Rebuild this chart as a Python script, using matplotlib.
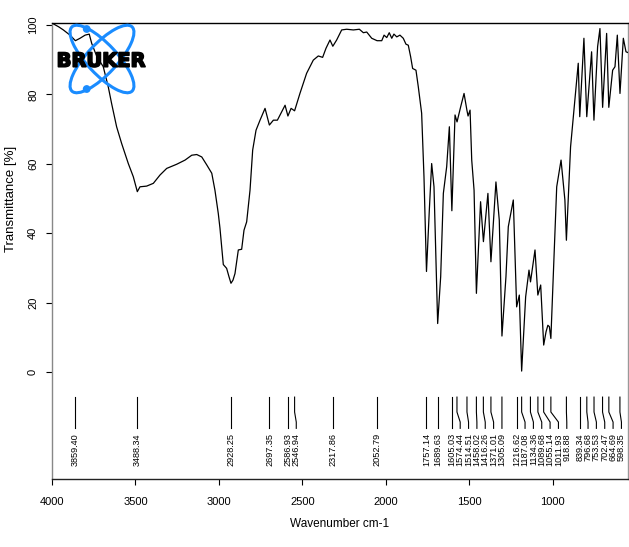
import matplotlib.pyplot as plt
import matplotlib.patheffects as pe
from matplotlib.patches import Ellipse, Circle

plt.rcParams['font.family'] = ['Liberation Sans', 'DejaVu Sans']

# IR spectrum, wavenumber (cm-1) vs transmittance (%)
wavenumber = [4000, 3990, 3960, 3932, 3892, 3860, 3832, 3802, 3777, 3762, 3732, 3693,
              3663, 3643, 3613, 3583, 3543, 3513, 3489, 3473, 3433, 3393, 3353, 3313,
              3253, 3203, 3163, 3133, 3103, 3073, 3043, 3024, 3004, 2994, 2984, 2974,
              2954, 2940, 2928, 2916, 2904, 2884, 2864, 2850, 2834, 2814, 2798, 2778,
              2754, 2724, 2698, 2674, 2650, 2604, 2587, 2568, 2547, 2515, 2475, 2435,
              2405, 2379, 2359, 2335, 2318, 2295, 2265, 2235, 2195, 2159, 2135, 2115,
              2085, 2053, 2025, 2011, 1995, 1980, 1965, 1952, 1935, 1916, 1896, 1880,
              1866, 1852, 1840, 1820, 1806, 1786, 1772, 1757, 1740, 1726, 1712, 1700,
              1690, 1672, 1656, 1636, 1620, 1605, 1586, 1574, 1552, 1532, 1515, 1508,
              1496, 1486, 1472, 1458, 1433, 1416, 1389, 1371, 1341, 1321, 1305, 1281,
              1267, 1237, 1217, 1201, 1187, 1163, 1143, 1134, 1107, 1090, 1073, 1055,
              1041, 1030, 1021, 1012, 977, 951, 928, 919, 894, 868, 848, 839,
              814, 797, 768, 754, 732, 718, 702, 678, 665, 642, 628, 614,
              598, 578, 562, 546]
transmittance = [100.8, 100.3, 99.5, 98.6, 97.1, 95.5, 96.2, 97.1, 97.4, 94.7, 91.0, 88.0,
                 82.2, 77.4, 70.7, 65.9, 60.1, 56.3, 52.0, 53.4, 53.6, 54.4, 56.8, 58.7,
                 59.9, 61.1, 62.5, 62.7, 62.0, 59.7, 57.3, 52.4, 45.7, 41.5, 36.1, 31.0,
                 29.9, 27.5, 25.6, 26.5, 28.4, 35.2, 35.4, 40.9, 43.3, 52.4, 64.0, 69.7,
                 72.6, 76.0, 71.2, 72.6, 72.6, 76.9, 73.8, 76.0, 75.3, 80.3, 86.1, 89.9,
                 91.1, 90.7, 93.3, 95.7, 93.9, 95.7, 98.6, 98.8, 98.6, 98.8, 97.8, 98.0,
                 96.2, 95.5, 95.5, 97.1, 96.4, 97.8, 96.2, 97.4, 96.6, 97.1, 96.2, 94.5,
                 94.2, 90.9, 87.5, 87.0, 82.2, 74.6, 56.3, 29.0, 46.7, 60.1, 53.4, 32.3,
                 14.0, 27.5, 51.5, 59.2, 70.7, 46.5, 74.1, 72.1, 76.5, 80.3, 75.5, 73.8,
                 75.5, 61.1, 52.4, 22.7, 49.1, 37.6, 51.5, 31.8, 54.8, 43.8, 10.4, 27.5,
                 41.9, 49.6, 18.8, 22.2, 0.3, 21.7, 29.4, 26.0, 35.2, 22.2, 25.1, 7.8,
                 11.6, 13.5, 13.1, 9.7, 53.4, 61.1, 49.6, 38.0, 64.9, 78.4, 89.0, 73.6,
                 96.2, 73.6, 92.3, 72.6, 93.8, 99.0, 76.3, 97.6, 76.3, 87.0, 88.0, 97.1,
                 80.3, 96.2, 92.3, 92.0]

# picked peaks
peaks = [3859.40, 3488.34, 2928.25, 2697.35, 2586.93, 2546.94, 2317.86, 2052.79,
         1757.14, 1689.63, 1605.03, 1574.44, 1514.51, 1458.02, 1416.26, 1371.01,
         1305.09, 1216.62, 1187.08, 1134.36, 1089.68, 1055.14, 1011.93, 918.88,
         839.34, 796.68, 753.53, 702.47, 664.69, 598.35]

x_ticks = [4000, 3500, 3000, 2500, 2000, 1500, 1000]
y_ticks = [0, 20, 40, 60, 80, 100]

W, H = 629, 547
fig = plt.figure(figsize=(W / 100, H / 100), dpi=100)
ax = fig.add_axes([52 / W, 1 - 479 / H, 576 / W, 456 / H])

ax.plot(wavenumber, transmittance, color='black', lw=0.9, zorder=3)
ax.set_xlim(4000, 550)
ax.set_ylim(-30.8, 100.6)

# peak markers: leader lines spread out so the labels do not overlap
min_gap = 50
label_pos = []
for p in peaks:
    if label_pos and label_pos[-1] - p < min_gap:
        label_pos.append(label_pos[-1] - min_gap)
    else:
        label_pos.append(p)

for p, lp in zip(peaks, label_pos):
    ax.plot([p, p, lp, lp], [-7.2, -11.5, -14.4, -16.2], color='black', lw=0.8,
            solid_joinstyle='miter', zorder=2)
    ax.text(lp, -17.6, '%.2f' % p, rotation=90, ha='center', va='top',
            fontsize=6.6, clip_on=False)

ax.set_xticks(x_ticks)
ax.set_xticklabels([str(t) for t in x_ticks], fontsize=8)
ax.set_yticks(y_ticks)
ax.set_yticklabels([str(t) for t in y_ticks], fontsize=8, rotation=90, va='center')
ax.tick_params(direction='out', length=4, width=0.8)
ax.tick_params(axis='x', pad=9)
ax.tick_params(axis='y', pad=6)
ax.set_xlabel('Wavenumber cm-1', fontsize=8.5, labelpad=8)
ax.set_ylabel('Transmittance [%]', fontsize=9.5)
ax.yaxis.set_label_coords(17 / W, 1 - 199 / H, transform=fig.transFigure)

ax.spines['top'].set_color('black')
ax.spines['bottom'].set_color('#222222')
ax.spines['left'].set_color('#888888')
ax.spines['right'].set_color('#999999')
for s in ax.spines.values():
    s.set_linewidth(1.0)

# Bruker logo in pixel coordinates
logo = fig.add_axes([0, 0, 1, 1], zorder=5)
logo.set_xlim(0, W)
logo.set_ylim(0, H)
logo.axis('off')
logo.patch.set_alpha(0)
blue = '#1a8cff'
cx, cy = 102, H - 59
logo.add_patch(Ellipse((cx, cy), 88, 30, angle=-47, fill=False, ec=blue, lw=2.2))
logo.add_patch(Ellipse((cx, cy), 88, 30, angle=47, fill=False, ec=blue, lw=2.2))
logo.add_patch(Circle((86.7, H - 29), 3.2, color=blue))
logo.add_patch(Circle((86.7, H - 89), 3.2, color=blue))
logo.text(101, H - 66.7, 'BRUKER', fontsize=14, fontweight='bold',
          family='DejaVu Sans', ha='center', va='baseline', color='black',
          path_effects=[pe.withStroke(linewidth=1.2, foreground='black')])

fig.savefig('out.png', dpi=100)
